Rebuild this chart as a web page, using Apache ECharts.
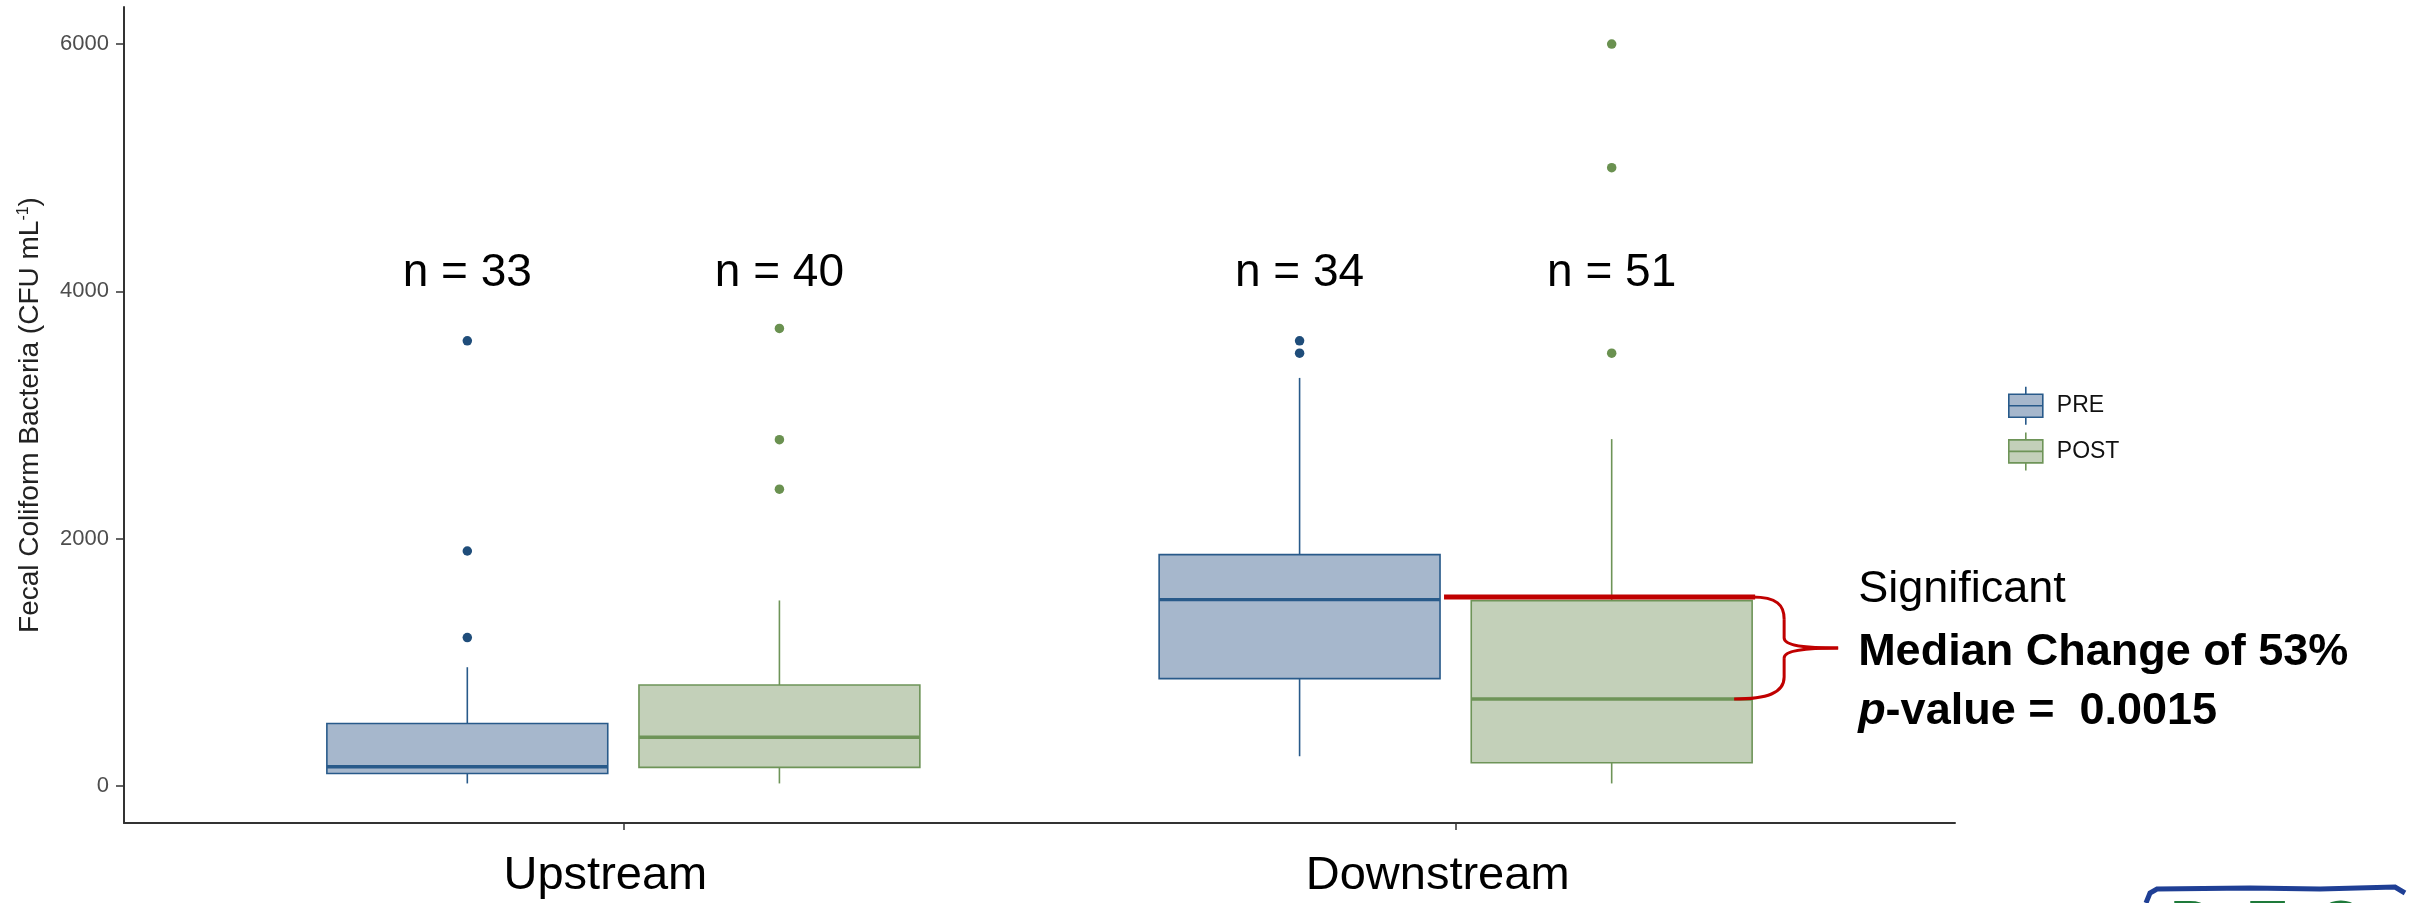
<!DOCTYPE html>
<html><head><meta charset="utf-8">
<script src="https://cdn.jsdelivr.net/npm/echarts@6/dist/echarts.min.js"></script>
<style>html,body{margin:0;padding:0;background:#fff}#c{width:2410px;height:903px}</style>
</head><body><div id="c"></div>
<script>
// ---------------- data ----------------
const categories = ['Upstream', 'Downstream'];
const seriesNames = ['PRE', 'POST'];
// [min, Q1, median, Q3, max] per category
const preBoxes = [[20, 100, 155, 505, 960], [240, 868, 1507, 1871, 3300]];
const postBoxes = [[20, 150, 393, 816, 1500], [20, 187, 703, 1499, 2805]];
// [categoryIndex, value]
const preOutliers = [[0, 3600], [0, 1900], [0, 1200], [1, 3600], [1, 3500]];
const postOutliers = [[0, 3700], [0, 2800], [0, 2400], [1, 6000], [1, 5000], [1, 3500]];
const preCounts = [33, 34];
const postCounts = [40, 51];
const yTicks = [0, 2000, 4000, 6000];
const annotationLines = ['Significant', 'Median Change of 53%', '-value =  0.0015'];

// ---------------- styles ----------------
const FONT = "'Liberation Sans', Arial, sans-serif";
const DODGE = 0.1875, BOX_W = 0.3375, N_LABEL_Y = 4150;
const PRE_STROKE = '#285A8A', PRE_FILL = '#A6B7CC', PRE_DOT = '#1F4D7A';
const POST_STROKE = '#6E9458', POST_FILL = '#C3D0B9', POST_DOT = '#6A9150';
const AXIS_C = '#333333';
const RED = '#C00000';
const BOX_ICON = 'path://M0,7.5L34,7.5L34,30.5L0,30.5Z M0,19L34,19 M17,0L17,7.5 M17,30.5L17,38';

function boxRender(stroke, fill) {
  return function (params, api) {
    const x = api.value(0);
    const pMin = api.coord([x, api.value(1)]);
    const pQ1 = api.coord([x, api.value(2)]);
    const pMed = api.coord([x, api.value(3)]);
    const pQ3 = api.coord([x, api.value(4)]);
    const pMax = api.coord([x, api.value(5)]);
    const w = api.size([BOX_W, 0])[0];
    const cx = pMed[0], h = w / 2;
    return {type: 'group', children: [
      {type: 'line', shape: {x1: cx, y1: pMax[1], x2: cx, y2: pQ3[1]}, style: {stroke: stroke, lineWidth: 1.6}},
      {type: 'line', shape: {x1: cx, y1: pQ1[1], x2: cx, y2: pMin[1]}, style: {stroke: stroke, lineWidth: 1.6}},
      {type: 'rect', shape: {x: cx - h, y: pQ3[1], width: w, height: pQ1[1] - pQ3[1]}, style: {fill: fill, stroke: stroke, lineWidth: 1.6}},
      {type: 'line', shape: {x1: cx - h, y1: pMed[1], x2: cx + h, y2: pMed[1]}, style: {stroke: stroke, lineWidth: 3.4}}
    ]};
  };
}

const preBoxData = preBoxes.map((b, i) => [i + 1 - DODGE].concat(b));
const postBoxData = postBoxes.map((b, i) => [i + 1 + DODGE].concat(b));
const preDotData = preOutliers.map(o => [o[0] + 1 - DODGE, o[1]]);
const postDotData = postOutliers.map(o => [o[0] + 1 + DODGE, o[1]]);
const nData = preCounts.map((n, i) => [i + 1 - DODGE, N_LABEL_Y, n])
  .concat(postCounts.map((n, i) => [i + 1 + DODGE, N_LABEL_Y, n]));

const chart = echarts.init(document.getElementById('c'), null, {renderer: 'canvas'});
chart.setOption({
  animation: false,
  backgroundColor: '#ffffff',
  textStyle: {fontFamily: FONT},
  grid: {left: 124, top: 7, right: 455, bottom: 80, containLabel: false, outerBoundsMode: 'none'},
  legend: {
    orient: 'vertical', left: 2003, top: 381, itemWidth: 34, itemHeight: 38, itemGap: 6,
    selectedMode: false,
    textStyle: {fontSize: 23, color: '#111', fontFamily: FONT, padding: [0, 0, 0, 9]},
    data: [
      {name: seriesNames[0], icon: BOX_ICON, itemStyle: {color: PRE_FILL, borderColor: PRE_STROKE, borderWidth: 1.6}},
      {name: seriesNames[1], icon: BOX_ICON, itemStyle: {color: POST_FILL, borderColor: POST_STROKE, borderWidth: 1.6}}
    ]
  },
  xAxis: {
    type: 'value', min: 0.4, max: 2.6,
    axisLine: {show: true, onZero: false, lineStyle: {color: AXIS_C, width: 2}},
    axisTick: {show: true, length: 7, customValues: [1, 2], lineStyle: {color: AXIS_C, width: 1.5}},
    axisLabel: {customValues: [1, 2], formatter: v => categories[Math.round(v) - 1], fontSize: 47, color: '#000', margin: 30, fontFamily: FONT, padding: [0, 36, 0, 0]},
    splitLine: {show: false}
  },
  yAxis: {
    type: 'value', min: -300, max: 6300,
    axisLine: {show: true, lineStyle: {color: AXIS_C, width: 2}},
    axisTick: {show: true, length: 8, customValues: yTicks, lineStyle: {color: AXIS_C, width: 1.5}},
    axisLabel: {customValues: yTicks, formatter: v => String(v), fontSize: 22, color: '#4D4D4D', margin: 15, fontFamily: FONT},
    splitLine: {show: false},
    name: 'Fecal Coliform Bacteria (CFU mL{sup|-1})',
    nameLocation: 'middle', nameGap: 80,
    nameTextStyle: {fontSize: 28, color: '#222', fontFamily: FONT,
      rich: {sup: {fontSize: 16, color: '#222', fontFamily: FONT, verticalAlign: 'top', padding: [0, 0, 11, 0]}}}
  },
  series: [
    {type: 'custom', name: seriesNames[0], data: preBoxData, encode: {x: 0, y: [1, 2, 3, 4, 5]}, renderItem: boxRender(PRE_STROKE, PRE_FILL), itemStyle: {color: PRE_FILL}, z: 2},
    {type: 'custom', name: seriesNames[1], data: postBoxData, encode: {x: 0, y: [1, 2, 3, 4, 5]}, renderItem: boxRender(POST_STROKE, POST_FILL), itemStyle: {color: POST_FILL}, z: 2},
    {type: 'scatter', name: seriesNames[0], data: preDotData, symbolSize: 9.5, itemStyle: {color: PRE_DOT, opacity: 1}, z: 3},
    {type: 'scatter', name: seriesNames[1], data: postDotData, symbolSize: 9.5, itemStyle: {color: POST_DOT, opacity: 1}, z: 3},
    {type: 'scatter', name: 'n', data: nData, symbolSize: 0, silent: true, itemStyle: {opacity: 1},
      label: {show: true, position: 'inside', formatter: p => 'n = ' + p.value[2], fontSize: 46, color: '#000',
        opacity: 1, textBorderWidth: 0, fontFamily: FONT}}
  ]
});

// ---------- annotation derived from the downstream medians ----------
const toPx = v => chart.convertToPixel({xAxisIndex: 0, yAxisIndex: 0}, v);
const preRight = toPx([2 - DODGE + BOX_W / 2, preBoxes[1][2]]);
const postRight = toPx([2 + DODGE + BOX_W / 2, preBoxes[1][2]]);
const postMed = toPx([2 + DODGE + BOX_W / 2, postBoxes[1][2]]);
const yt = preRight[1] - 2.5, yb = postMed[1], ym = (yt + yb) / 2;
const xr = postRight[0], xb = xr + 32;
const redStyle = {stroke: RED, lineWidth: 3, fill: null};
function bez(x1, y1, c1x, c1y, c2x, c2y, x2, y2) {
  return {type: 'bezierCurve', shape: {x1: x1, y1: y1, cpx1: c1x, cpy1: c1y, cpx2: c2x, cpy2: c2y, x2: x2, y2: y2}, style: redStyle, z: 10};
}
function seg(x1, y1, x2, y2, lw) {
  return {type: 'line', shape: {x1: x1, y1: y1, x2: x2, y2: y2}, style: {stroke: RED, lineWidth: lw}, z: 10};
}
const tx = xr + 106;
chart.setOption({
  graphic: [
    seg(preRight[0] + 4, yt, xr + 3, yt, 5),
    bez(xr, yt, xr + 25, yt, xb, yt + 8, xb, yt + 22),
    seg(xb, yt + 22, xb, ym - 10, 3),
    bez(xb, ym - 10, xb, ym - 3, xr + 50, ym, xr + 86, ym),
    bez(xr + 86, ym, xr + 50, ym, xb, ym + 3, xb, ym + 10),
    seg(xb, ym + 10, xb, yb - 22, 3),
    bez(xb, yb - 22, xb, yb - 6, xr + 15, yb, xr - 18, yb),
    {type: 'text', x: tx, y: 590, style: {text: annotationLines[0], font: '45px ' + FONT, fill: '#000', verticalAlign: 'middle'}, z: 10},
    {type: 'text', x: tx, y: 653, style: {text: annotationLines[1], font: 'bold 45px ' + FONT, fill: '#000', verticalAlign: 'middle'}, z: 10},
    {type: 'text', x: tx, y: 712, style: {text: '{i|p}{b|' + annotationLines[2] + '}', verticalAlign: 'middle',
      rich: {i: {fontSize: 45, fontWeight: 'bold', fontStyle: 'italic', fontFamily: FONT, fill: '#000'},
             b: {fontSize: 45, fontWeight: 'bold', fontFamily: FONT, fill: '#000'}}}, z: 10},
    // partial logo at lower right corner
    {type: 'polyline', shape: {points: [[2146, 903], [2150, 893], [2157, 889], [2250, 888], [2320, 889], [2395, 887], [2405, 893]]}, style: {stroke: '#1F3F95', lineWidth: 5, fill: null}, z: 10},
    {type: 'text', x: 2170, y: 896, style: {text: 'D', font: 'bold 64px ' + FONT, fill: '#1E7A3A', verticalAlign: 'top'}, z: 9},
    {type: 'text', x: 2246, y: 896, style: {text: 'E', font: 'bold 64px ' + FONT, fill: '#1E7A3A', verticalAlign: 'top'}, z: 9},
    {type: 'text', x: 2316, y: 896, style: {text: 'Q', font: 'bold 64px ' + FONT, fill: '#1E7A3A', verticalAlign: 'top'}, z: 9}
  ]
});
</script></body></html>
